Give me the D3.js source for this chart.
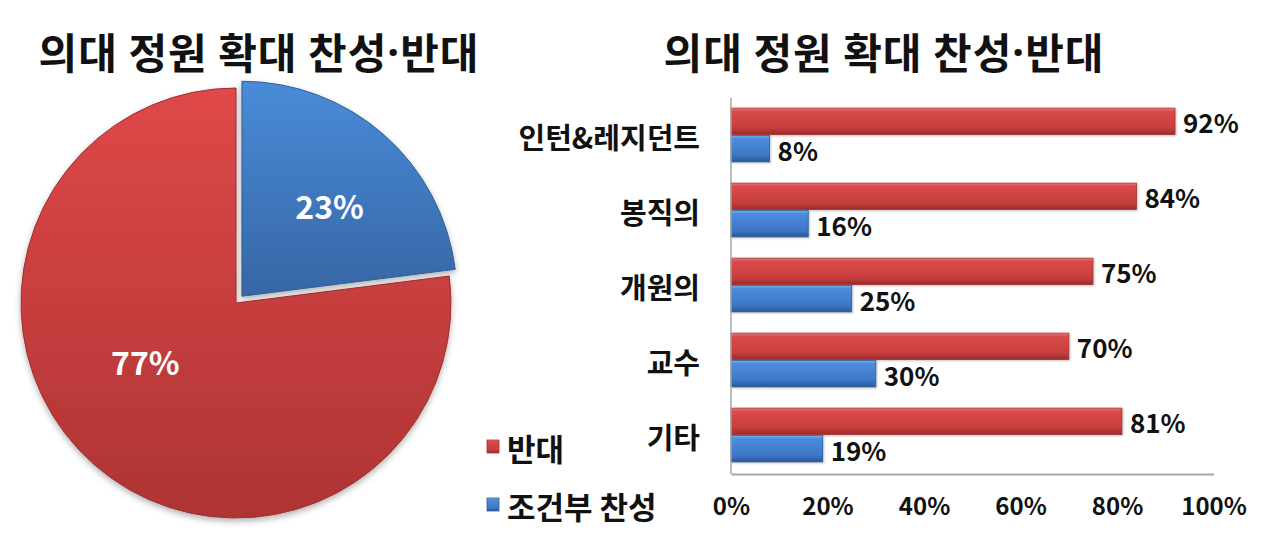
<!DOCTYPE html>
<html><head><meta charset="utf-8">
<script src="https://cdn.jsdelivr.net/npm/d3@7"></script>
<style>
html,body{margin:0;padding:0;background:#fff;}
svg{display:block;font-family:"Noto Sans CJK KR","Noto Sans",sans-serif;}
</style></head>
<body>
<svg id="chart" width="1280" height="548"></svg>
<script>
// ---- data ----
const titleParts = ["의대 정원 확대 찬성", "·", "반대"];
const seriesNames = ["반대", "조건부 찬성"];
const pieValues = [23, 77];          // 조건부 찬성, 반대
const pieSeries = ["조건부 찬성", "반대"];
const categories = ["인턴&레지던트", "봉직의", "개원의", "교수", "기타"];
const opposeValues = [92, 84, 75, 70, 81];
const supportValues = [8, 16, 25, 30, 19];
const xTicks = [0, 20, 40, 60, 80, 100];

// ---- setup ----
const svg = d3.select("#chart");
const defs = svg.append("defs");

function grad(id, stops, y1, y2, units) {
  const g = defs.append("linearGradient").attr("id", id)
    .attr("x1", 0).attr("x2", 0).attr("y1", y1).attr("y2", y2);
  if (units) g.attr("gradientUnits", units);
  stops.forEach(s => g.append("stop").attr("offset", s[0]).attr("stop-color", s[1]));
}
const pieCx = 236, pieCy = 303, pieR = 215;
grad("pieRed", [[0, "#df4848"], [1, "#ae3434"]], -pieR, pieR, "userSpaceOnUse");
grad("pieBlue", [[0, "#4a8bd8"], [1, "#3666a5"]], -pieR, 0, "userSpaceOnUse");
grad("barRed", [[0, "#f07a7a"], [0.12, "#da4a4a"], [0.75, "#c63e3e"], [1, "#9a2b2b"]], 0, 1);
grad("barBlue", [[0, "#7ab2f2"], [0.12, "#4c8cdc"], [0.75, "#3d78c6"], [1, "#2a5896"]], 0, 1);

const shadow = defs.append("filter").attr("id", "shadow")
  .attr("x", "-10%").attr("y", "-10%").attr("width", "120%").attr("height", "125%");
shadow.append("feDropShadow").attr("dx", 0).attr("dy", 3).attr("stdDeviation", 3)
  .attr("flood-color", "#000").attr("flood-opacity", 0.3);

// ---- titles ----
function addTitle(cx) {
  const t = svg.append("text").attr("x", cx).attr("y", 50).attr("text-anchor", "middle")
    .attr("dominant-baseline", "central").attr("font-size", 42).attr("font-weight", 700)
    .attr("letter-spacing", 1).attr("fill", "#111");
  t.append("tspan").text(titleParts[0]);
  t.append("tspan").attr("font-family", "Noto Sans").text(titleParts[1]);
  t.append("tspan").text(titleParts[2]);
}
addTitle(259);
addTitle(884);

// ---- pie ----
const pieColors = {"조건부 찬성": "url(#pieBlue)", "반대": "url(#pieRed)"};
const pieStroke = {"조건부 찬성": "#2f5d96", "반대": "#9c2e2e"};
const explode = {"조건부 찬성": 9, "반대": 0};
const labelR = {"조건부 찬성": 0.59, "반대": 0.50};
const labelShift = {"조건부 찬성": 0.04, "반대": 0.28}; // radians
const pieData = d3.pie().sort(null).value(d => d.v)(pieValues.map((v, i) => ({v, s: pieSeries[i]})));
const arc = d3.arc().innerRadius(0).outerRadius(pieR);
const pg = svg.append("g").attr("transform", `translate(${pieCx},${pieCy})`);
pieData.forEach(d => {
  const mid = (d.startAngle + d.endAngle) / 2;
  const e = explode[d.data.s];
  const dx = e * Math.sin(mid), dy = -e * Math.cos(mid);
  pg.append("path").attr("d", arc(d))
    .attr("transform", `translate(${dx},${dy})`)
    .attr("fill", pieColors[d.data.s])
    .attr("stroke", pieStroke[d.data.s]).attr("stroke-width", 1)
    .attr("filter", "url(#shadow)");
  const la = mid + labelShift[d.data.s];
  const lr = pieR * labelR[d.data.s];
  pg.append("text")
    .attr("x", dx + lr * Math.sin(la)).attr("y", dy - lr * Math.cos(la))
    .attr("text-anchor", "middle").attr("dominant-baseline", "central")
    .attr("font-size", 32).attr("font-weight", 700).attr("fill", "#fff")
    .text(d.data.v + "%");
});

// ---- bar chart ----
const x = d3.scaleLinear().domain([0, 100]).range([731, 1213.6]);
const y = d3.scaleBand().domain(categories).range([98, 473]).paddingInner(0.27).paddingOuter(0.135);
const ySub = d3.scaleBand().domain(seriesNames).range([0, y.bandwidth()]);
const barFill = {"반대": "url(#barRed)", "조건부 찬성": "url(#barBlue)"};
const barStroke = {"반대": "#a83030", "조건부 찬성": "#2d5c98"};

const rows = [];
categories.forEach((c, i) => {
  rows.push({c, s: "반대", v: opposeValues[i]});
  rows.push({c, s: "조건부 찬성", v: supportValues[i]});
});

const bg = svg.append("g");
bg.selectAll("rect.bar").data(rows).join("rect").attr("class", "bar")
  .attr("x", x(0)).attr("y", d => y(d.c) + ySub(d.s))
  .attr("width", d => x(d.v) - x(0)).attr("height", ySub.bandwidth() - 1)
  .attr("fill", d => barFill[d.s]).attr("stroke", d => barStroke[d.s]).attr("stroke-width", 0.8)
  .style("filter", "drop-shadow(1px 1px 1px rgba(0,0,0,0.25))");

bg.selectAll("text.val").data(rows).join("text").attr("class", "val")
  .attr("x", d => x(d.v) + 8).attr("y", d => y(d.c) + ySub(d.s) + ySub.bandwidth() / 2)
  .attr("dominant-baseline", "central").attr("font-size", 26).attr("font-weight", 700)
  .attr("fill", "#111").text(d => d.v + "%");

// category labels
bg.selectAll("text.cat").data(categories).join("text").attr("class", "cat")
  .attr("x", 700).attr("y", d => y(d) + y.bandwidth() / 2)
  .attr("text-anchor", "end").attr("dominant-baseline", "central")
  .attr("font-size", 29).attr("font-weight", 700).attr("fill", "#111").text(d => d);

// axes
const axisColor = "#a6a6a6";
svg.append("line").attr("x1", x(0)).attr("x2", x(0)).attr("y1", 98).attr("y2", 474)
  .attr("stroke", axisColor).attr("stroke-width", 1.5);
const xAxis = svg.append("g").attr("transform", "translate(0,474)")
  .call(d3.axisBottom(x).tickValues(xTicks).tickSize(0).tickPadding(24).tickFormat(d => d + "%"));
xAxis.select(".domain").attr("stroke", axisColor).attr("stroke-width", 2);
xAxis.selectAll("text").attr("font-family", "Noto Sans CJK KR").attr("font-size", 24)
  .attr("font-weight", 700).attr("fill", "#111");

// legend
const legendY = {"반대": 447, "조건부 찬성": 505};
const lg = svg.append("g");
seriesNames.forEach(s => {
  lg.append("rect").attr("x", 487).attr("y", legendY[s] - 7).attr("width", 12).attr("height", 13)
    .attr("fill", barFill[s]).attr("stroke", barStroke[s]).attr("stroke-width", 0.8);
  lg.append("text").attr("x", 507).attr("y", legendY[s]).attr("dominant-baseline", "central")
    .attr("font-size", 31).attr("font-weight", 700).attr("fill", "#111").text(s);
});
</script>
</body></html>
